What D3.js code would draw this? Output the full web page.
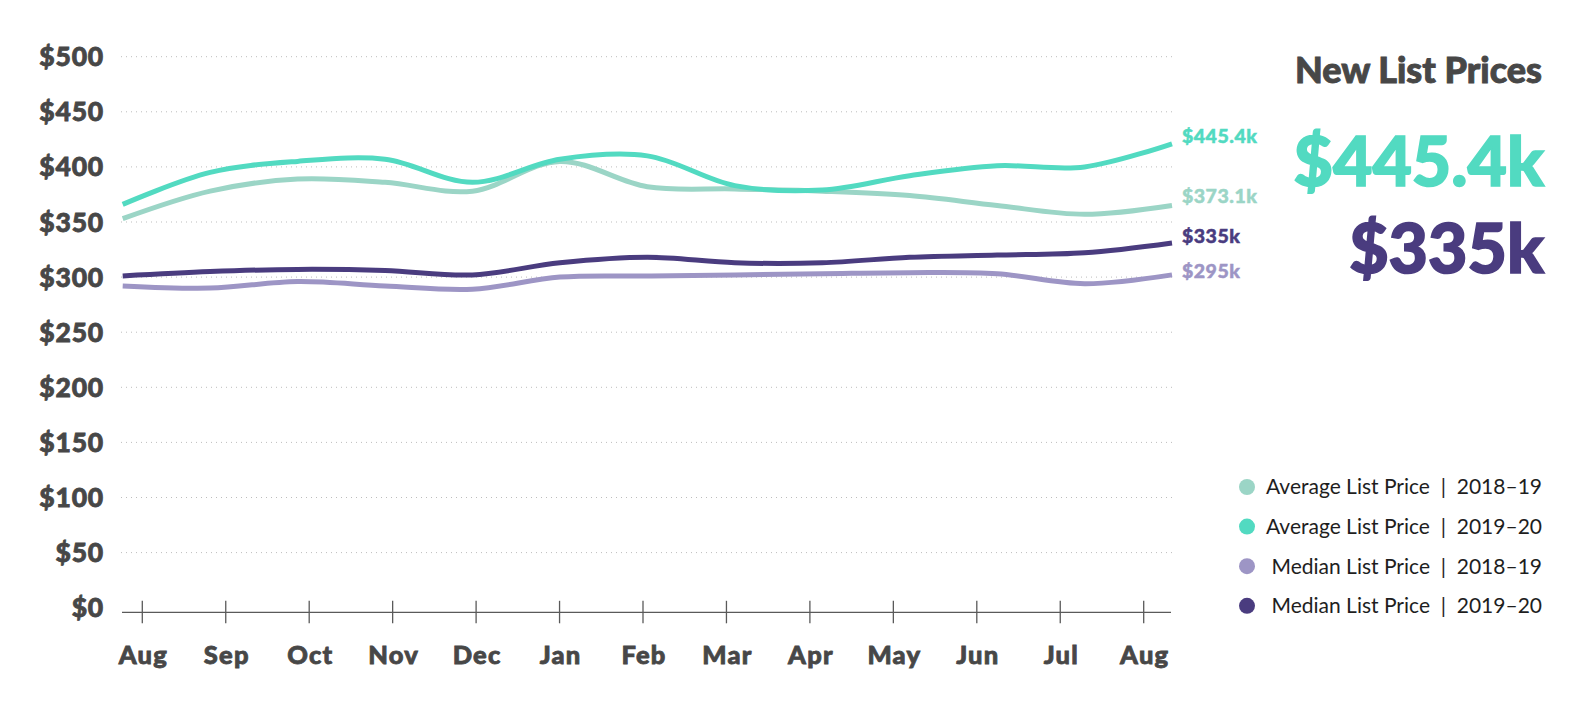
<!DOCTYPE html>
<html>
<head>
<meta charset="utf-8">
<script src="https://cdn.jsdelivr.net/npm/d3@7"></script>
<style>
  html, body { margin: 0; padding: 0; background: #fff; }
  svg { display: block; }
</style>
</head>
<body>
<svg width="1581" height="717"></svg>
<script>
// Month ticks along the bottom
const months = ["Aug", "Sep", "Oct", "Nov", "Dec", "Jan", "Feb", "Mar", "Apr", "May", "Jun", "Jul", "Aug"];

// Series values ($k), one per month
const avg1819 = [353, 378, 389, 386, 378, 405, 382, 380, 378, 374, 365, 357, 365];
const avg1920 = [366, 395, 405, 407, 386, 407, 410, 383, 379, 392, 401, 400, 421];
const med1819 = [292, 290, 296, 292, 289, 300, 301, 302, 303, 304, 303, 294, 302];
const med1920 = [301, 305, 307, 306, 302, 313, 318, 313, 313, 318, 320, 322, 331];

// Y axis ticks
const yTicks = [0, 50, 100, 150, 200, 250, 300, 350, 400, 450, 500];

// Labels
const endLabels = ["$373.1k", "$445.4k", "$295k", "$335k"];
const legendNames = ["Average List Price  |  2018–19", "Average List Price  |  2019–20",
                     "Median List Price  |  2018–19", "Median List Price  |  2019–20"];
const colors = ["#9bd5c6", "#52dac1", "#9d95c5", "#4a3c7f"];

const series = [avg1819, avg1920, med1819, med1920];

const svg = d3.select("svg");
const font = "Lato, 'Open Sans', sans-serif";

// Scales
const yScale = d3.scaleLinear().domain([0, 500]).range([607.7, 56.7]);
const xLine = d3.scaleLinear().domain([0, months.length - 1]).range([122.7, 1172]);
const xAxis = d3.scaleLinear().domain([0, months.length - 1]).range([142.3, 1143.7]);

// Dotted gridlines
svg.append("g")
    .selectAll("line")
    .data(yTicks.filter(d => d > 0))
    .join("line")
    .attr("x1", 121)
    .attr("x2", 1173)
    .attr("y1", d => yScale(d))
    .attr("y2", d => yScale(d))
    .attr("stroke", "#bdbdbd")
    .attr("stroke-width", 1)
    .attr("stroke-dasharray", "1,4");

// Y labels
svg.append("g")
    .selectAll("text")
    .data(yTicks)
    .join("text")
    .attr("x", 104)
    .attr("y", d => yScale(d))
    .attr("dy", "0.36em")
    .attr("text-anchor", "end")
    .attr("font-family", font)
    .attr("font-weight", 900)
    .attr("font-size", 26.5)
    .attr("letter-spacing", 0.8)
    .attr("fill", "#474747")
    .attr("stroke", "#474747")
    .attr("stroke-width", 0.8)
    .text(d => "$" + d);

// X axis
const xg = svg.append("g").attr("transform", `translate(0, ${yScale(0) + 4.6})`);
xg.append("line")
    .attr("x1", 122).attr("x2", 1171)
    .attr("stroke", "#5a5a5a").attr("stroke-width", 1.3);
xg.selectAll(".tick")
    .data(months)
    .join("line")
    .attr("x1", (d, i) => xAxis(i))
    .attr("x2", (d, i) => xAxis(i))
    .attr("y1", -11.5).attr("y2", 11)
    .attr("stroke", "#5a5a5a").attr("stroke-width", 1.3);
xg.selectAll("text")
    .data(months)
    .join("text")
    .attr("x", (d, i) => xAxis(i) + 1)
    .attr("y", 51.5)
    .attr("text-anchor", "middle")
    .attr("font-family", font)
    .attr("font-weight", 900)
    .attr("font-size", 25.5)
    .attr("letter-spacing", 1.2)
    .attr("fill", "#474747")
    .attr("stroke", "#474747")
    .attr("stroke-width", 0.8)
    .text(d => d);

// Lines
const line = d3.line()
    .x((d, i) => xLine(i))
    .y(d => yScale(d))
    .curve(d3.curveCatmullRom.alpha(0.5));

svg.append("g")
    .selectAll("path")
    .data(series)
    .join("path")
    .attr("d", d => line(d))
    .attr("fill", "none")
    .attr("stroke", (d, i) => colors[i])
    .attr("stroke-width", 5)
    .attr("stroke-linecap", "butt");

// End labels
const endY = [203, 143, 278, 243];
svg.append("g")
    .selectAll("text")
    .data(endLabels)
    .join("text")
    .attr("x", 1182)
    .attr("y", (d, i) => endY[i])
    .attr("font-family", font)
    .attr("font-weight", 900)
    .attr("font-size", 19.5)
    .attr("letter-spacing", 0.5)
    .attr("fill", (d, i) => colors[i])
    .attr("stroke", (d, i) => colors[i])
    .attr("stroke-width", 0.5)
    .text(d => d);

// Title block
svg.append("text")
    .attr("x", 1542).attr("y", 83)
    .attr("text-anchor", "end")
    .attr("font-family", font)
    .attr("font-weight", 900)
    .attr("font-size", 36)
    .attr("fill", "#474747")
    .attr("stroke", "#474747")
    .attr("stroke-width", 0.9)
    .text("New List Prices");

svg.append("text")
    .attr("x", 1544).attr("y", 186)
    .attr("text-anchor", "end")
    .attr("font-family", font)
    .attr("font-weight", 900)
    .attr("font-size", 68)
    .attr("fill", "#52dac1")
    .attr("stroke", "#52dac1")
    .attr("stroke-width", 1.6)
    .text(endLabels[1]);

svg.append("text")
    .attr("x", 1544).attr("y", 273)
    .attr("text-anchor", "end")
    .attr("font-family", font)
    .attr("font-weight", 900)
    .attr("font-size", 68)
    .attr("fill", "#4a3c7f")
    .attr("stroke", "#4a3c7f")
    .attr("stroke-width", 1.6)
    .text(endLabels[3]);

// Legend
const legend = svg.append("g")
    .selectAll("g")
    .data(legendNames)
    .join("g")
    .attr("transform", (d, i) => `translate(0, ${487 + i * 39.6})`);
legend.append("circle")
    .attr("cx", 1247).attr("cy", 0).attr("r", 8)
    .attr("fill", (d, i) => colors[i]);
legend.append("text")
    .attr("x", 1542).attr("y", 0)
    .attr("dy", "0.35em")
    .attr("text-anchor", "end")
    .attr("font-family", font)
    .attr("font-size", 21)
    .attr("fill", "#1e1e1e")
    .style("white-space", "pre")
    .text(d => d);
</script>
</body>
</html>
